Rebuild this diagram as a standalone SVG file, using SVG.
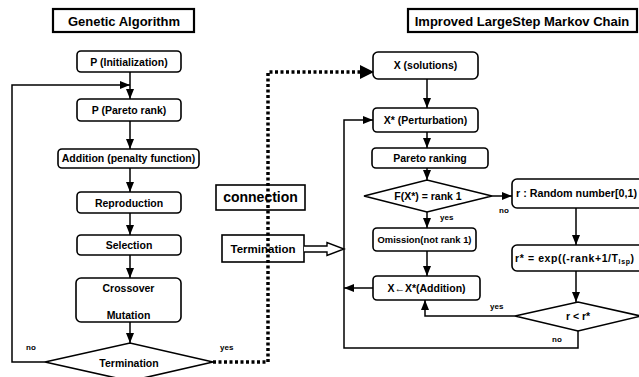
<svg xmlns="http://www.w3.org/2000/svg" width="639" height="377" viewBox="0 0 639 377">
<style>
.box{fill:#fff;stroke:#000;stroke-width:1.6}
.title{fill:#fff;stroke:#000;stroke-width:2.2}
.t{font-family:"Liberation Sans",Arial,sans-serif;font-weight:bold;font-size:10.5px;fill:#000;text-anchor:middle}
.tt{font-family:"Liberation Sans",Arial,sans-serif;font-weight:bold;font-size:13px;fill:#000;text-anchor:middle}
.lbl{font-family:"Liberation Sans",Arial,sans-serif;font-weight:bold;font-size:8px;fill:#000}
.ln{fill:none;stroke:#000;stroke-width:1.5}
.dot{fill:none;stroke:#000;stroke-width:3.5;stroke-dasharray:3 2.5}
</style>
<defs>
<marker id="ah" markerUnits="userSpaceOnUse" markerWidth="10" markerHeight="10" viewBox="0 0 10 10" refX="10" refY="5" orient="auto">
<path d="M0,1 L10,5 L0,9 Z" fill="#000"/>
</marker>
</defs>
<g id="title-ga">
<rect class="title" x="53" y="9" width="141" height="23"/>
<text class="tt" x="124" y="26">Genetic Algorithm</text>
</g>
<g id="title-lsmc">
<rect class="title" x="408" y="9" width="229" height="23"/>
<text class="tt" x="522" y="26">Improved LargeStep Markov Chain</text>
</g>
<g id="p-init">
<rect class="box" x="77" y="51" width="104" height="21" rx="4"/>
<text class="t" x="129" y="65.5">P (Initialization)</text>
</g>
<g id="p-pareto">
<rect class="box" x="77" y="99" width="104" height="22" rx="4"/>
<text class="t" x="129" y="114">P (Pareto rank)</text>
</g>
<g id="addition">
<rect class="box" x="58" y="149" width="141" height="19" rx="4"/>
<text class="t" x="128.5" y="162">Addition (penalty function)</text>
</g>
<g id="reproduction">
<rect class="box" x="77" y="192" width="104" height="21" rx="4"/>
<text class="t" x="129" y="206.5">Reproduction</text>
</g>
<g id="selection">
<rect class="box" x="77" y="235" width="104" height="20" rx="4"/>
<text class="t" x="129" y="249">Selection</text>
</g>
<g id="crossover">
<rect class="box" x="76" y="278" width="105" height="44" rx="5"/>
<text class="t" x="128.5" y="292">Crossover</text>
<text class="t" x="128.5" y="319">Mutation</text>
</g>
<g id="termination-ga">
<polygon class="box" points="45,362 130,343 213,362 130,381"/>
<text class="t" x="129" y="367">Termination</text>
</g>
<g id="connection">
<rect class="box" x="216" y="185" width="89" height="25"/>
<text class="tt" x="260.5" y="202" style="font-size:14px">connection</text>
</g>
<g id="termination">
<rect class="box" x="222" y="235" width="82" height="27"/>
<text class="t" x="263" y="253" style="font-size:11.5px">Termination</text>
</g>
<g id="x-solutions">
<rect class="box" x="373" y="52" width="105" height="27" rx="5"/>
<text class="t" x="425.5" y="69">X (solutions)</text>
</g>
<g id="x-perturbation">
<rect class="box" x="373" y="108" width="105" height="24" rx="4"/>
<text class="t" x="425.5" y="124">X* (Perturbation)</text>
</g>
<g id="pareto-ranking">
<rect class="box" x="372" y="148" width="116" height="20" rx="4"/>
<text class="t" x="430" y="162">Pareto ranking</text>
</g>
<g id="rank-check">
<polygon class="box" points="364,196 427,180 492,196 427,212"/>
<text class="t" x="428" y="200">F(X*) = rank 1</text>
</g>
<g id="omission">
<rect class="box" x="373" y="228" width="103" height="23" rx="4"/>
<text class="t" x="424.5" y="243" style="font-size:9.5px" textLength="94" lengthAdjust="spacingAndGlyphs">Omission(not rank 1)</text>
</g>
<g id="x-addition">
<rect class="box" x="373" y="276" width="107" height="24" rx="4"/>
<text class="t" x="426.5" y="292">X←X*(Addition)</text>
</g>
<g id="random">
<rect class="box" x="512" y="179" width="135" height="29" rx="5"/>
<text class="t" x="516" y="197" style="text-anchor:start" textLength="121" lengthAdjust="spacingAndGlyphs">r : Random number[0,1)</text>
</g>
<g id="r-star">
<rect class="box" x="512" y="245" width="135" height="26" rx="5"/>
<text class="t" x="515" y="262" style="text-anchor:start;letter-spacing:0.6px">r* = exp((-rank+1/T<tspan dy="2" style="font-size:7px">lsp</tspan><tspan dy="-2">)</tspan></text>
</g>
<g id="r-compare">
<polygon class="box" points="515,316 578,302 641,316 578,331"/>
<text class="t" x="578" y="320">r &lt; r*</text>
</g>
<g id="connectors">
<path class="ln" d="M130,72 V99" marker-end="url(#ah)"/>
<path class="ln" d="M45,362 H12 V85 H130" marker-end="url(#ah)"/>
<path class="ln" d="M130,121 V149" marker-end="url(#ah)"/>
<path class="ln" d="M130,168 V192" marker-end="url(#ah)"/>
<path class="ln" d="M130,213 V235" marker-end="url(#ah)"/>
<path class="ln" d="M130,255 V278" marker-end="url(#ah)"/>
<path class="ln" d="M130,322 V343" marker-end="url(#ah)"/>
<path class="dot" d="M213,362 H268 V72 H362"/>
<path d="M360,65 L374,72 L360,79 Z" fill="#000"/>
<path class="ln" d="M427,79 V108" marker-end="url(#ah)"/>
<path class="ln" d="M427,132 V148" marker-end="url(#ah)"/>
<path class="ln" d="M427,168 V180" marker-end="url(#ah)"/>
<path class="ln" d="M427,212 V228" marker-end="url(#ah)"/>
<path class="ln" d="M427,251 V276" marker-end="url(#ah)"/>
<path class="ln" d="M492,196 H512" marker-end="url(#ah)"/>
<path class="ln" d="M576,208 V245" marker-end="url(#ah)"/>
<path class="ln" d="M576,271 V302" marker-end="url(#ah)"/>
<path class="ln" d="M515,316 H425 V300" marker-end="url(#ah)"/>
<path class="ln" d="M373,288 H344" marker-end="url(#ah)"/>
<path class="ln" d="M578,331 V348 H344 V120 H373" marker-end="url(#ah)"/>
<path d="M304,246 H327 V242.5 L344,249 L327,255.5 V252 H304" fill="#fff" stroke="#000" stroke-width="1.4"/>
<text class="lbl" x="26" y="350">no</text>
<text class="lbl" x="220" y="350">yes</text>
<text class="lbl" x="440" y="220">yes</text>
<text class="lbl" x="499" y="213">no</text>
<text class="lbl" x="490" y="309">yes</text>
<text class="lbl" x="552" y="342">no</text>
</g>
</svg>
